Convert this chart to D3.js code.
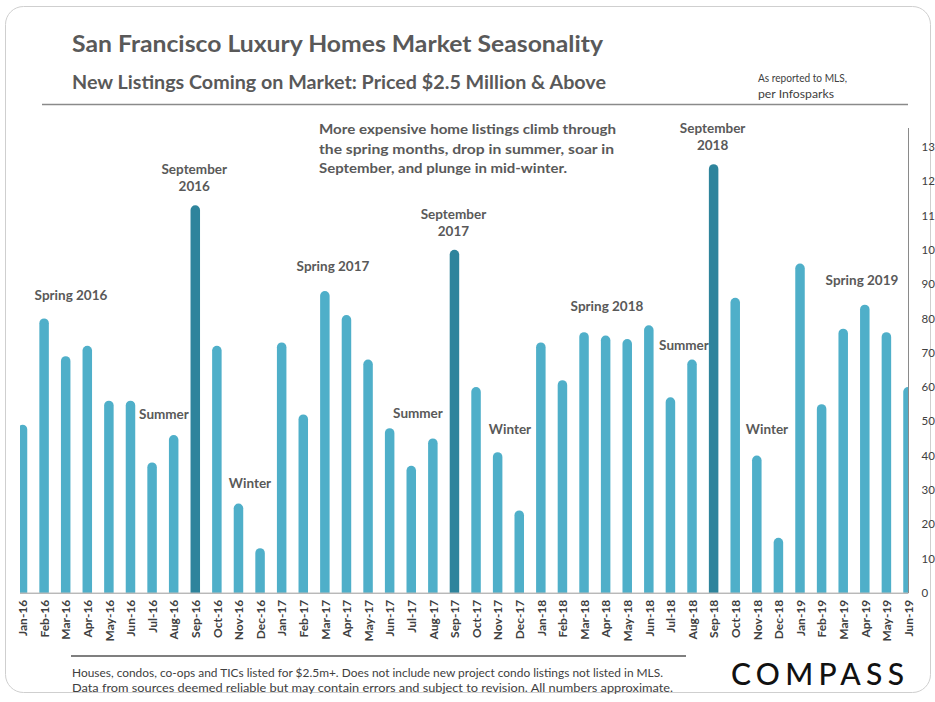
<!DOCTYPE html>
<html>
<head>
<meta charset="utf-8">
<script src="https://cdn.jsdelivr.net/npm/d3@7"></script>
<style>
  body { margin: 0; background: #fff; }
  svg text { font-family: Lato, "Open Sans", sans-serif; }
</style>
</head>
<body>
<div id="chart"></div>
<script>
// Monthly new listings priced $2.5M+
const months = ["Jan-16","Feb-16","Mar-16","Apr-16","May-16","Jun-16","Jul-16","Aug-16","Sep-16","Oct-16","Nov-16","Dec-16",
                "Jan-17","Feb-17","Mar-17","Apr-17","May-17","Jun-17","Jul-17","Aug-17","Sep-17","Oct-17","Nov-17","Dec-17",
                "Jan-18","Feb-18","Mar-18","Apr-18","May-18","Jun-18","Jul-18","Aug-18","Sep-18","Oct-18","Nov-18","Dec-18",
                "Jan-19","Feb-19","Mar-19","Apr-19","May-19","Jun-19"];
const listings = [49,80,69,72,56,56,38,46,113,72,26,13,
                  73,52,88,81,68,48,37,45,100,60,41,24,
                  73,62,76,75,74,78,57,68,125,86,40,16,
                  96,55,77,84,76,60];
const yTicks = [0,10,20,30,40,50,60,70,80,90,100,110,120,130];
const yTickLabels = ["0","10","20","30","40","50","60","70","80","90","10","11","12","13"]; // cut off in the original

const width = 935, height = 702;
const svg = d3.select("#chart").append("svg")
    .attr("width", width)
    .attr("height", height);

// card frame
svg.append("rect")
    .attr("x", 5.5).attr("y", 6.5)
    .attr("width", 925).attr("height", 686)
    .attr("rx", 18)
    .attr("fill", "none")
    .attr("stroke", "#cfcfcf");

// header
svg.append("text")
    .attr("x", 72).attr("y", 52)
    .attr("font-size", 23).attr("font-weight", 700)
    .attr("fill", "#595959")
    .attr("textLength", 531).attr("lengthAdjust", "spacingAndGlyphs")
    .text("San Francisco Luxury Homes Market Seasonality");

svg.append("text")
    .attr("x", 72).attr("y", 89)
    .attr("font-size", 18).attr("font-weight", 700)
    .attr("fill", "#595959")
    .attr("textLength", 534).attr("lengthAdjust", "spacingAndGlyphs")
    .text("New Listings  Coming  on Market:  Priced $2.5 Million  & Above");

svg.append("text").attr("x", 758).attr("y", 82)
    .attr("font-size", 11).attr("fill", "#404040")
    .attr("textLength", 89).attr("lengthAdjust", "spacingAndGlyphs")
    .text("As reported to MLS,");
svg.append("text").attr("x", 758).attr("y", 98)
    .attr("font-size", 11).attr("fill", "#404040")
    .attr("textLength", 76).attr("lengthAdjust", "spacingAndGlyphs")
    .text("per Infosparks");

svg.append("line")
    .attr("x1", 42).attr("x2", 908)
    .attr("y1", 104.5).attr("y2", 104.5)
    .attr("stroke", "#8a8a8a").attr("stroke-width", 1.3);

// scales
const plotLeft = 20, plotRight = 908, plotBottom = 592.7;
const x = d3.scalePoint().domain(months).range([22.5, 908]);
const y = d3.scaleLinear().domain([0, 130]).range([plotBottom, 147]);
const barW = 9.5;

svg.append("clipPath").attr("id", "plotClip")
    .append("rect")
    .attr("x", plotLeft).attr("y", 0)
    .attr("width", plotRight - plotLeft).attr("height", plotBottom);

// annotation labels (drawn first, bars overlap them like in the original)
const seasonLabels = [
    { lines: ["Spring 2016"], x: 71, y: 295 },
    { lines: ["Summer"], x: 164, y: 414 },
    { lines: ["Winter"], x: 250, y: 483 },
    { lines: ["Spring 2017"], x: 333, y: 266 },
    { lines: ["Summer"], x: 418, y: 413 },
    { lines: ["Winter"], x: 510, y: 429 },
    { lines: ["Spring 2018"], x: 607, y: 306 },
    { lines: ["Summer"], x: 684, y: 345 },
    { lines: ["Winter"], x: 767, y: 429 },
    { lines: ["Spring 2019"], x: 862, y: 280 }
];

const labelG = svg.append("g")
    .attr("font-size", 13.5).attr("font-weight", 700)
    .attr("fill", "#595959").attr("text-anchor", "middle");

seasonLabels.forEach(function(l) {
    labelG.append("text")
        .attr("x", l.x).attr("y", l.y).attr("dy", "0.35em")
        .text(l.lines[0]);
});

// September peaks get their own two-line label above the bar
months.forEach(function(m, i) {
    if (m.startsWith("Sep")) {
        const top = y(listings[i]);
        labelG.append("text")
            .attr("x", x(m) - 1).attr("y", top - 36).attr("dy", "0.35em")
            .text("September");
        labelG.append("text")
            .attr("x", x(m) - 1).attr("y", top - 19).attr("dy", "0.35em")
            .text("20" + m.slice(4));
    }
});

// bars with rounded tops
svg.append("g")
    .attr("clip-path", "url(#plotClip)")
    .selectAll("rect")
    .data(months)
    .enter()
    .append("rect")
    .attr("x", d => x(d) - barW / 2)
    .attr("y", (d, i) => y(listings[i]))
    .attr("width", barW)
    .attr("height", (d, i) => plotBottom - y(listings[i]) + 10)
    .attr("rx", barW / 2)
    .attr("fill", d => d.startsWith("Sep") ? "#2e849c" : "#4fafc9");

// baseline and right axis
svg.append("line")
    .attr("x1", plotLeft).attr("x2", plotRight)
    .attr("y1", plotBottom + 0.5).attr("y2", plotBottom + 0.5)
    .attr("stroke", "#9a9a9a");

const yAxis = d3.axisRight(y)
    .tickValues(yTicks)
    .tickSize(0)
    .tickPadding(13)
    .tickFormat((d, i) => yTickLabels[i]);

const yg = svg.append("g")
    .attr("transform", "translate(" + (plotRight + 0.5) + ",0)")
    .call(yAxis);
yg.select(".domain").attr("stroke", "#8a8a8a").attr("d", "M0," + 128 + "V" + (plotBottom + 0.5));
yg.selectAll("text")
    .attr("font-family", "'Open Sans', sans-serif")
    .attr("font-size", 11.5).attr("fill", "#404040");

// month labels, rotated
const xAxis = d3.axisBottom(x).tickSize(0).tickPadding(0);
const xg = svg.append("g")
    .attr("transform", "translate(0," + plotBottom + ")")
    .call(xAxis);
xg.select(".domain").remove();
xg.selectAll("text")
    .attr("font-family", "Lato, sans-serif")
    .attr("font-size", 12).attr("font-weight", 700)
    .attr("fill", "#404040")
    .attr("text-anchor", "end")
    .attr("transform", "rotate(-90)")
    .attr("x", -7).attr("y", 0).attr("dy", "0.35em");

// intro text
const note = ["More expensive home listings climb through",
              "the spring months, drop in summer, soar in",
              "September, and plunge in mid-winter."];
const noteWidths = [297, 295, 248];
note.forEach(function(t, i) {
    svg.append("text")
        .attr("x", 319).attr("y", 134 + i * 19.5)
        .attr("font-family", "'Open Sans', sans-serif")
        .attr("font-size", 13.5).attr("font-weight", 700)
        .attr("fill", "#595959")
        .attr("textLength", noteWidths[i]).attr("lengthAdjust", "spacingAndGlyphs")
        .text(t);
});

// footer
svg.append("line")
    .attr("x1", 71).attr("x2", 686)
    .attr("y1", 656).attr("y2", 656)
    .attr("stroke", "#7f7f7f").attr("stroke-width", 2);

svg.append("text").attr("x", 72).attr("y", 677)
    .attr("font-size", 11.5).attr("fill", "#404040")
    .attr("textLength", 591).attr("lengthAdjust", "spacingAndGlyphs")
    .text("Houses, condos, co-ops and TICs listed for $2.5m+. Does not include new project condo listings not listed in MLS.");
svg.append("text").attr("x", 72).attr("y", 692)
    .attr("font-size", 11.5).attr("fill", "#404040")
    .attr("textLength", 601).attr("lengthAdjust", "spacingAndGlyphs")
    .text("Data from sources deemed reliable but may contain  errors and subject to revision.  All numbers approximate.");

svg.append("text")
    .attr("x", 731).attr("y", 685)
    .attr("font-family", "Inter, 'Open Sans', sans-serif")
    .attr("font-size", 30).attr("font-weight", 500)
    .attr("fill", "#111")
    .attr("textLength", 173).attr("lengthAdjust", "spacing")
    .text("COMPASS");
</script>
</body>
</html>
